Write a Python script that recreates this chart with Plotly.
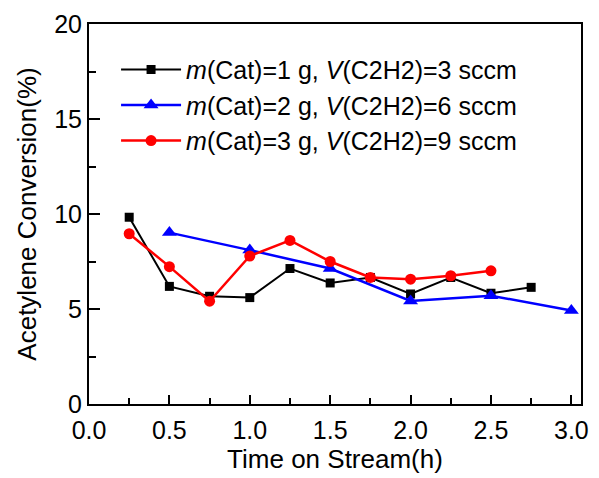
import plotly.graph_objects as go

time_black = [0.25, 0.5, 0.75, 1.0, 1.25, 1.5, 1.75, 2.0, 2.25, 2.5, 2.75]
conv_black = [9.83, 6.19, 5.67, 5.6, 7.13, 6.37, 6.66, 5.79, 6.66, 5.83, 6.14]

time_blue = [0.5, 1.0, 1.5, 2.0, 2.5, 3.0]
conv_blue = [9.02, 8.1, 7.13, 5.42, 5.7, 4.92]

time_red = [0.25, 0.5, 0.75, 1.0, 1.25, 1.5, 1.75, 2.0, 2.25, 2.5]
conv_red = [8.96, 7.23, 5.41, 7.79, 8.61, 7.5, 6.66, 6.57, 6.75, 7.01]

names = [
    "<i>m</i>(Cat)=1 g, <i>V</i>(C2H2)=3 sccm",
    "<i>m</i>(Cat)=2 g, <i>V</i>(C2H2)=6 sccm",
    "<i>m</i>(Cat)=3 g, <i>V</i>(C2H2)=9 sccm",
]

FONT = "Liberation Sans, Arial, sans-serif"

fig = go.Figure()
fig.add_trace(go.Scatter(x=time_black, y=conv_black, mode="lines+markers", name=names[0],
                         line=dict(color="black", width=2),
                         marker=dict(symbol="square", size=9, color="black")))
fig.add_trace(go.Scatter(x=time_blue, y=conv_blue, mode="lines+markers", name=names[1],
                         line=dict(color="#0000ff", width=2.5),
                         marker=dict(symbol="triangle-up", size=13, color="#0000ff")))
fig.add_trace(go.Scatter(x=time_red, y=conv_red, mode="lines+markers", name=names[2],
                         line=dict(color="#ff0000", width=2.5),
                         marker=dict(symbol="circle", size=11, color="#ff0000")))

fig.update_layout(
    width=599, height=478,
    margin=dict(l=89, r=10, t=24, b=70),
    paper_bgcolor="white", plot_bgcolor="white",
    font=dict(family=FONT, size=24, color="black"),
    showlegend=True,
    legend=dict(x=0.055, y=0.94, xanchor="left", yanchor="top",
                bgcolor="rgba(0,0,0,0)", font=dict(size=25, family=FONT),
                itemwidth=60, tracegroupgap=0, traceorder="normal"),
)
fig.update_xaxes(
    range=[0, 3.06], tickmode="array", tickvals=[0, 0.5, 1.0, 1.5, 2.0, 2.5, 3.0],
    ticktext=["0.0", "0.5", "1.0", "1.5", "2.0", "2.5", "3.0"],
    ticks="inside", ticklen=9, tickwidth=1.5, tickcolor="black",
    minor=dict(ticks="inside", ticklen=6, tickwidth=1.5, tickcolor="black", dtick=0.25, showgrid=False),
    showline=True, linecolor="black", linewidth=2, mirror=True,
    showgrid=False, zeroline=False,
    tickfont=dict(size=25), ticklabelstandoff=3,
    title=dict(text="Time on Stream(h)", font=dict(size=26), standoff=6),
)
fig.update_yaxes(
    range=[0, 20], tickmode="array", tickvals=[0, 5, 10, 15, 20],
    ticks="inside", ticklen=11, tickwidth=1.5, tickcolor="black",
    minor=dict(ticks="inside", ticklen=7, tickwidth=1.5, tickcolor="black", dtick=2.5, showgrid=False),
    showline=True, linecolor="black", linewidth=2, mirror=True,
    showgrid=False, zeroline=False,
    tickfont=dict(size=25),
    title=dict(text="Acetylene Conversion(%)", font=dict(size=26), standoff=10),
)

fig.write_html("out.html")
